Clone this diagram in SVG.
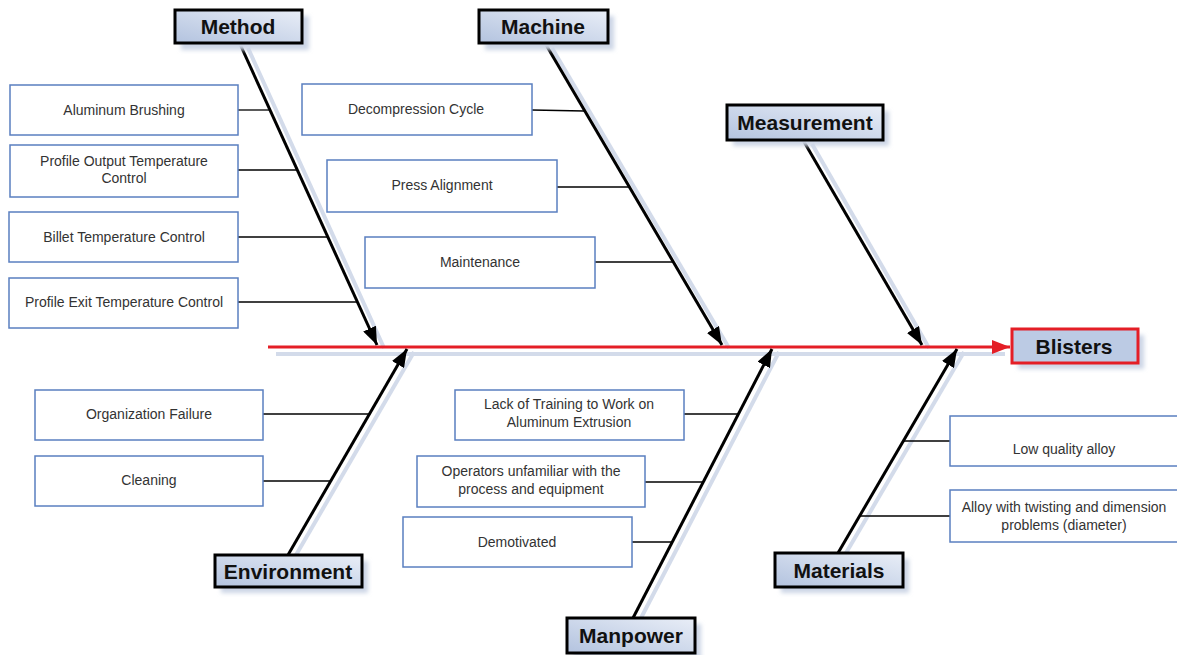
<svg xmlns="http://www.w3.org/2000/svg" width="1177" height="655" viewBox="0 0 1177 655">
<defs>
<linearGradient id="cat" x1="0" y1="1" x2="1" y2="0">
<stop offset="0" stop-color="#b3c3df"/>
<stop offset="1" stop-color="#e9eef7"/>
</linearGradient>
<marker id="ah" markerUnits="userSpaceOnUse" markerWidth="20" markerHeight="14" refX="18" refY="7" orient="auto">
<path d="M0,0 L18,7 L0,14 z" fill="#000"/>
</marker>
<marker id="ahr" markerUnits="userSpaceOnUse" markerWidth="20" markerHeight="14" refX="18" refY="7" orient="auto">
<path d="M0,0 L18,7 L0,14 z" fill="#e41e26"/>
</marker>
<filter id="blur" x="-20%" y="-20%" width="140%" height="140%"><feGaussianBlur stdDeviation="2"/></filter>
</defs>
<style>
.cat{fill:url(#cat);stroke:#000;stroke-width:3}
.sh{fill:#ccd5e6;filter:url(#blur)}
.cause{fill:#fff;stroke:#5a7fc0;stroke-width:1.5}
.ct{font-family:"Liberation Sans",Arial,sans-serif;font-size:14px;fill:#333;text-anchor:middle}
.lt{font-family:"Liberation Sans",Arial,sans-serif;font-size:21px;font-weight:bold;fill:#111;text-anchor:middle}
.bone{stroke:#000;stroke-width:3;fill:none}
.bsh{stroke:#d3dbea;stroke-width:4;fill:none}
.sub{stroke:#000;stroke-width:1.3;fill:none}
</style>
<rect width="1177" height="655" fill="#fff"/>
<g id="connectors">
<line class="bsh" x1="276" y1="354" x2="1005" y2="354"/>
<line class="bsh" x1="248" y1="48" x2="384" y2="348"/>
<line class="bsh" x1="552" y1="48" x2="729" y2="348"/>
<line class="bsh" x1="812" y1="144" x2="929" y2="348"/>
<line class="bsh" x1="296" y1="555" x2="414" y2="352"/>
<line class="bsh" x1="641" y1="618" x2="779" y2="352"/>
<line class="bsh" x1="846" y1="553" x2="964" y2="352"/>
<line x1="268" y1="347" x2="1010" y2="347" stroke="#e41e26" stroke-width="3" marker-end="url(#ahr)"/>
<line class="bone" x1="240" y1="44" x2="377" y2="345" marker-end="url(#ah)"/>
<line class="bone" x1="545" y1="43" x2="722" y2="345" marker-end="url(#ah)"/>
<line class="bone" x1="803" y1="140" x2="922" y2="345" marker-end="url(#ah)"/>
<line class="bone" x1="288" y1="555" x2="407" y2="349" marker-end="url(#ah)"/>
<line class="bone" x1="633" y1="618" x2="772" y2="349" marker-end="url(#ah)"/>
<line class="bone" x1="838" y1="553" x2="957" y2="349" marker-end="url(#ah)"/>
<line class="sub" x1="238" y1="110" x2="270" y2="110"/>
<line class="sub" x1="238" y1="170" x2="297" y2="170"/>
<line class="sub" x1="238" y1="237" x2="327" y2="237"/>
<line class="sub" x1="238" y1="302" x2="357" y2="302"/>
<line class="sub" x1="532" y1="110" x2="584" y2="111"/>
<line class="sub" x1="557" y1="187" x2="629" y2="187"/>
<line class="sub" x1="595" y1="262" x2="673" y2="262"/>
<line class="sub" x1="263" y1="414" x2="369" y2="414"/>
<line class="sub" x1="263" y1="481" x2="330" y2="481"/>
<line class="sub" x1="684" y1="414" x2="738" y2="414"/>
<line class="sub" x1="645" y1="482" x2="703" y2="482"/>
<line class="sub" x1="632" y1="542" x2="672" y2="542"/>
<line class="sub" x1="903" y1="441" x2="950" y2="441"/>
<line class="sub" x1="860" y1="516" x2="950" y2="516"/>
</g>
<g id="method">
<rect class="sh" x="181" y="16" width="128" height="34"/>
<rect class="cat" x="175" y="10" width="127" height="33"/>
<text class="lt" x="238" y="34">Method</text>
</g>
<g id="machine">
<rect class="sh" x="485" y="16" width="129" height="34"/>
<rect class="cat" x="479" y="10" width="129" height="33"/>
<text class="lt" x="543" y="34">Machine</text>
</g>
<g id="measurement">
<rect class="sh" x="733" y="111" width="156" height="35"/>
<rect class="cat" x="727" y="105" width="156" height="35"/>
<text class="lt" x="805" y="130">Measurement</text>
</g>
<g id="blisters">
<rect class="sh" x="1018" y="335" width="126" height="34"/>
<rect x="1012" y="329" width="126" height="34" fill="#bccbe4" stroke="#e41e26" stroke-width="3"/>
<text class="lt" x="1074" y="354">Blisters</text>
</g>
<g id="environment">
<rect class="sh" x="221" y="561" width="147" height="32"/>
<rect class="cat" x="215" y="555" width="147" height="32"/>
<text class="lt" x="288" y="579">Environment</text>
</g>
<g id="manpower">
<rect class="sh" x="573" y="624" width="128" height="35"/>
<rect class="cat" x="567" y="618" width="128" height="35"/>
<text class="lt" x="631" y="643">Manpower</text>
</g>
<g id="materials">
<rect class="sh" x="781" y="559" width="128" height="34"/>
<rect class="cat" x="775" y="553" width="128" height="34"/>
<text class="lt" x="839" y="578">Materials</text>
</g>
<g id="aluminum-brushing">
<rect class="cause" x="10" y="85" width="228" height="50"/>
<text class="ct" x="124" y="115">Aluminum Brushing</text>
</g>
<g id="profile-output">
<rect class="cause" x="10" y="145" width="228" height="52"/>
<text class="ct" x="124" y="166">Profile Output Temperature</text>
<text class="ct" x="124" y="183">Control</text>
</g>
<g id="billet">
<rect class="cause" x="9" y="212" width="229" height="50"/>
<text class="ct" x="124" y="242">Billet Temperature Control</text>
</g>
<g id="profile-exit">
<rect class="cause" x="9" y="278" width="229" height="50"/>
<text class="ct" x="124" y="307">Profile Exit Temperature Control</text>
</g>
<g id="decompression">
<rect class="cause" x="302" y="84" width="230" height="51"/>
<text class="ct" x="416" y="114">Decompression Cycle</text>
</g>
<g id="press-alignment">
<rect class="cause" x="327" y="160" width="230" height="52"/>
<text class="ct" x="442" y="190">Press Alignment</text>
</g>
<g id="maintenance">
<rect class="cause" x="365" y="237" width="230" height="51"/>
<text class="ct" x="480" y="267">Maintenance</text>
</g>
<g id="organization-failure">
<rect class="cause" x="35" y="390" width="228" height="50"/>
<text class="ct" x="149" y="419">Organization Failure</text>
</g>
<g id="cleaning">
<rect class="cause" x="35" y="456" width="228" height="50"/>
<text class="ct" x="149" y="485">Cleaning</text>
</g>
<g id="lack-of-training">
<rect class="cause" x="455" y="390" width="229" height="50"/>
<text class="ct" x="569" y="409">Lack of Training to Work on</text>
<text class="ct" x="569" y="427">Aluminum Extrusion</text>
</g>
<g id="operators">
<rect class="cause" x="417" y="456" width="228" height="51"/>
<text class="ct" x="531" y="476">Operators unfamiliar with the</text>
<text class="ct" x="531" y="494">process and equipment</text>
</g>
<g id="demotivated">
<rect class="cause" x="403" y="517" width="229" height="50"/>
<text class="ct" x="517" y="547">Demotivated</text>
</g>
<g id="low-quality-alloy">
<rect class="cause" x="950" y="416" width="230" height="50"/>
<text class="ct" x="1064" y="454">Low quality alloy</text>
</g>
<g id="alloy-twisting">
<rect class="cause" x="950" y="490" width="230" height="52"/>
<text class="ct" x="1064" y="512">Alloy with twisting and dimension</text>
<text class="ct" x="1064" y="530">problems (diameter)</text>
</g>
</svg>
